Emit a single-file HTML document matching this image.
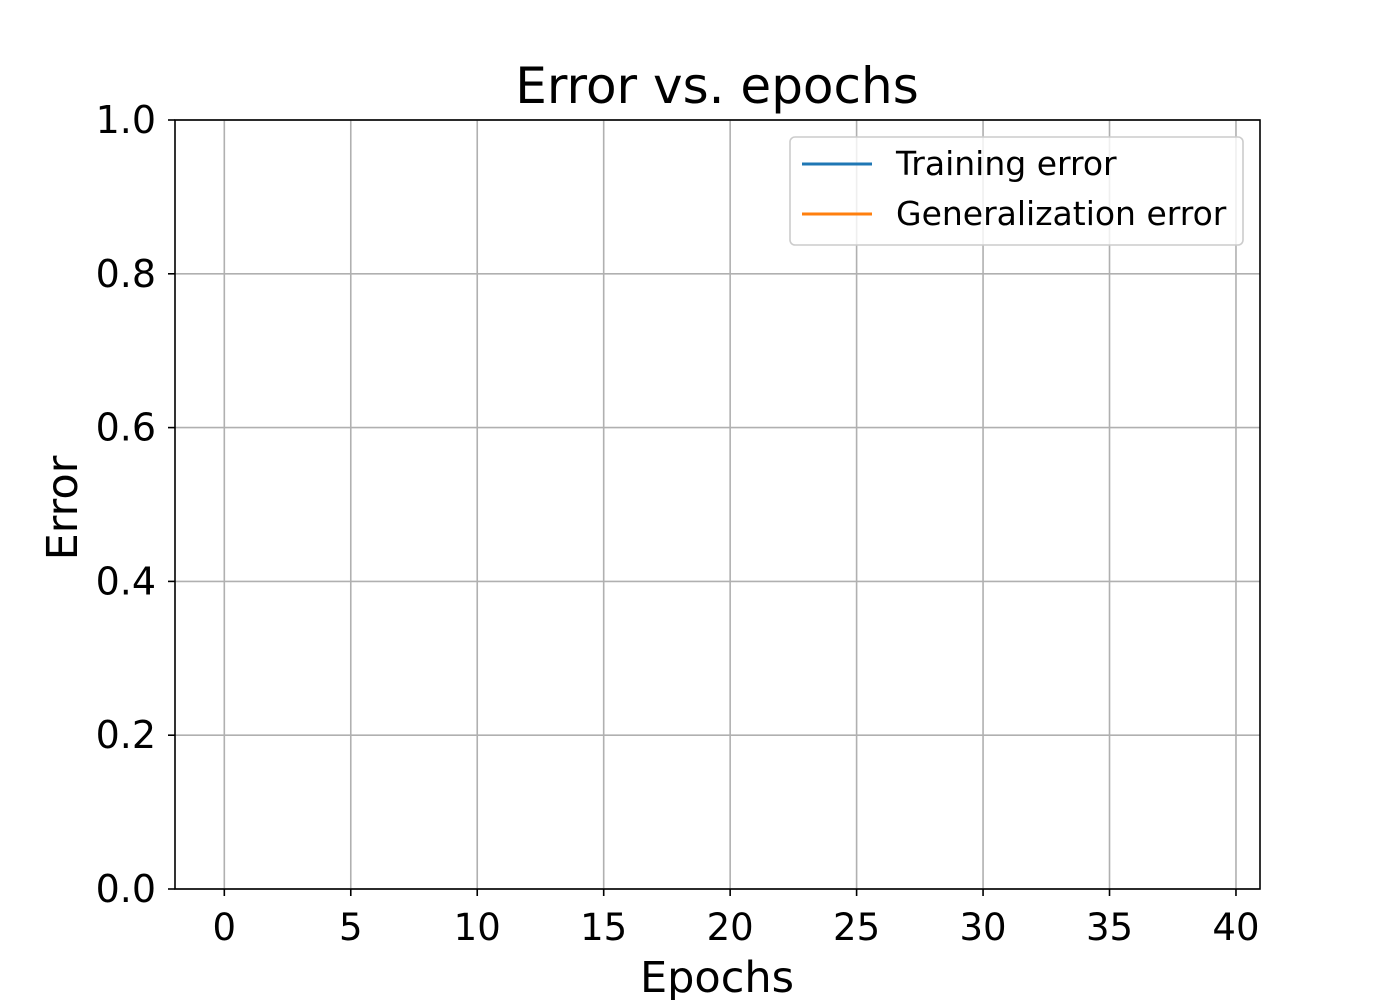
<!DOCTYPE html>
<html><head><meta charset="utf-8"><style>
html,body{margin:0;padding:0;background:#fff;}
svg{display:block;font-family:"DejaVu Sans","Liberation Sans",sans-serif;}
</style></head><body>
<svg id="chart" width="1400" height="1000">
<defs><clipPath id="plotclip"><rect x="175" y="120" width="1085" height="769"/></clipPath></defs>
<rect x="0" y="0" width="1400" height="1000" fill="#fff"/>
<g id="grid"></g>
<g id="series" clip-path="url(#plotclip)"></g>
<rect x="175" y="120" width="1085" height="769" fill="none" stroke="#000" stroke-width="1.6"/>
<g id="ticks"></g>
<text x="717" y="103" font-size="50" text-anchor="middle">Error vs. epochs</text>
<text x="717" y="992" font-size="43" text-anchor="middle">Epochs</text>
<text transform="translate(77,508) rotate(-90)" font-size="43" text-anchor="middle">Error</text>
<g>
<rect x="790" y="137" width="453" height="108" rx="5" fill="#fff" fill-opacity="0.8" stroke="#ccc" stroke-width="1.6"/>
<line x1="802" y1="164" x2="872" y2="164" stroke="#1f77b4" stroke-width="3"/>
<text x="896" y="175" font-size="33">Training error</text>
<line x1="802" y1="214" x2="872" y2="214" stroke="#ff7f0e" stroke-width="3"/>
<text x="896" y="225" font-size="33">Generalization error</text>
</g>
</svg>
<script>
const epochs = [];
const trainingError = [];
const generalizationError = [];
const xTicks = [0,5,10,15,20,25,30,35,40];
const yTicks = [0,0.2,0.4,0.6,0.8,1.0];
const yTickLabels = ["0.0","0.2","0.4","0.6","0.8","1.0"];

const L=175,R=1260,T=120,B=889;
const xMin=-1.95,xMax=40.95,yMin=0,yMax=1;
const xs=v=>L+(v-xMin)/(xMax-xMin)*(R-L);
const ys=v=>B-(v-yMin)/(yMax-yMin)*(B-T);
const NS="http://www.w3.org/2000/svg";
const grid=document.getElementById('grid'),ticks=document.getElementById('ticks'),series=document.getElementById('series');
function mk(tag,attrs,parent){const e=document.createElementNS(NS,tag);for(const k in attrs)e.setAttribute(k,attrs[k]);parent.appendChild(e);return e;}
xTicks.forEach(v=>{
  const x=xs(v);
  const g=mk('line',{x1:x,x2:x,y1:T,y2:B,stroke:'#b0b0b0','stroke-width':1.6},grid);
  
  
  const t=mk('line',{x1:x,x2:x,y1:B,y2:B+7,stroke:'#000','stroke-width':1.6},ticks);
  
  
  const l=mk('text',{x:x,y:B+51,'font-size':37,'text-anchor':'middle'},ticks);
  l.textContent=v;
  
  
});
yTicks.forEach((v,i)=>{
  const y=ys(v);
  const g=mk('line',{x1:L,x2:R,y1:y,y2:y,stroke:'#b0b0b0','stroke-width':1.6},grid);
  
  
  const t=mk('line',{x1:L-7,x2:L,y1:y,y2:y,stroke:'#000','stroke-width':1.6},ticks);
  
  
  const l=mk('text',{x:L-19,y:y+13,'font-size':38,'text-anchor':'end'},ticks);
  l.textContent=yTickLabels[i];
  
  
});
function drawLine(vals,color,name){
  if(!vals.length)return;
  const pts=vals.map((v,i)=>xs(epochs[i])+','+ys(v)).join(' ');
  const p=mk('polyline',{points:pts,fill:'none',stroke:color,'stroke-width':3},series);
  
  
}
drawLine(trainingError,'#1f77b4','training-error-line');
drawLine(generalizationError,'#ff7f0e','generalization-error-line');
</script>
</body></html>
